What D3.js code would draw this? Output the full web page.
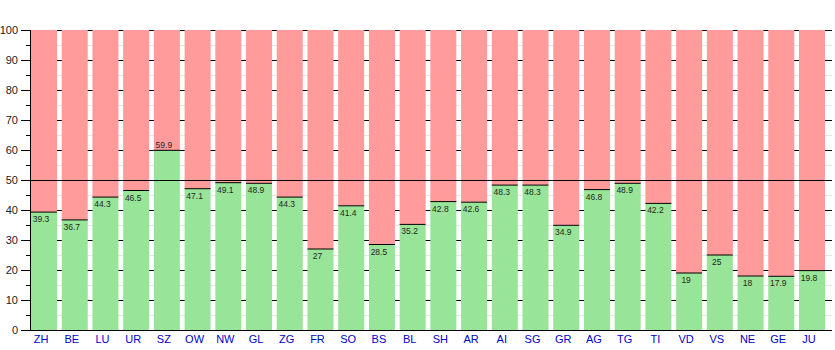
<!DOCTYPE html>
<html><head><meta charset="utf-8">
<script src="https://cdn.jsdelivr.net/npm/d3@7"></script>
<style>body{margin:0;background:#fff}svg{display:block}</style>
</head><body><svg id="c" width="835" height="350"></svg>
<script>
const cantons = ["ZH","BE","LU","UR","SZ","OW","NW","GL","ZG","FR","SO","BS","BL","SH","AR","AI","SG","GR","AG","TG","TI","VD","VS","NE","GE","JU"];
const yesShare = [39.3,36.7,44.3,46.5,59.9,47.1,49.1,48.9,44.3,27,41.4,28.5,35.2,42.8,42.6,48.3,48.3,34.9,46.8,48.9,42.2,19,25,18,17.9,19.8];
const yMajorTicks = [0,10,20,30,40,50,60,70,80,90,100];
const yMinorTicks = [5,15,25,35,45,55,65,75,85,95];
const threshold = 50;

(function () {
const svg = d3.select("#c");
const mLeft = 30, mRight = 832, mTop = 30, mBottom = 330;
const x = d3.scaleBand().domain(cantons).range([31, 825]).paddingInner(0.1536).paddingOuter(0);
const y = d3.scaleLinear().domain([0, 100]).range([mBottom, mTop]);
const font = "'Liberation Sans', Arial, sans-serif";

// minor gridlines
svg.append("g").selectAll("line").data(yMinorTicks).join("line")
  .attr("x1", mLeft).attr("x2", mRight)
  .attr("y1", d => Math.round(y(d)) + 0.5).attr("y2", d => Math.round(y(d)) + 0.5)
  .attr("stroke", "#e6e6e6").attr("stroke-width", 1);
// major gridlines
svg.append("g").selectAll("line").data(yMajorTicks).join("line")
  .attr("x1", mLeft).attr("x2", mRight)
  .attr("y1", d => Math.round(y(d)) + 0.5).attr("y2", d => Math.round(y(d)) + 0.5)
  .attr("stroke", "#000").attr("stroke-width", 1);

const bars = svg.append("g").selectAll("g").data(cantons.map((c, i) => ({c, v: yesShare[i]}))).join("g");
bars.append("rect")
  .attr("x", d => x(d.c)).attr("width", x.bandwidth())
  .attr("y", y(100)).attr("height", d => y(d.v) - y(100))
  .attr("fill", "#ff9b9b");
bars.append("rect")
  .attr("x", d => x(d.c)).attr("width", x.bandwidth())
  .attr("y", d => y(d.v)).attr("height", d => y(0) - y(d.v))
  .attr("fill", "#98e498");
bars.append("line")
  .attr("x1", d => x(d.c)).attr("x2", d => x(d.c) + x.bandwidth())
  .attr("y1", d => y(d.v)).attr("y2", d => y(d.v))
  .attr("stroke", "#000").attr("stroke-width", 1);
bars.append("text")
  .attr("x", d => x(d.c) + x.bandwidth() / 2 - 3)
  .attr("y", d => d.v > threshold ? y(d.v) - 2.5 : y(d.v) + 10)
  .attr("text-anchor", "middle")
  .attr("font-family", font).attr("font-size", 8.5).attr("fill", "#1f2a1f")
  .text(d => d.v);

// threshold line on top
svg.append("line")
  .attr("x1", mLeft).attr("x2", mRight)
  .attr("y1", Math.round(y(threshold)) + 0.5).attr("y2", Math.round(y(threshold)) + 0.5)
  .attr("stroke", "#000").attr("stroke-width", 1);

// y axis
const ya = svg.append("g").attr("transform", `translate(${mLeft},0)`)
  .call(d3.axisLeft(y).tickValues(yMajorTicks).tickSize(9).tickPadding(3).tickSizeOuter(0));
ya.select(".domain").attr("stroke", "#000");
ya.selectAll("text").attr("font-family", font).attr("font-size", 11).attr("fill", "#222");
svg.append("g").attr("transform", `translate(${mLeft},0)`)
  .call(d3.axisLeft(y).tickValues(yMinorTicks).tickSize(4).tickFormat(""))
  .call(g => g.select(".domain").remove());

// x axis
svg.append("line").attr("x1", mLeft - 4).attr("x2", mRight).attr("y1", mBottom + 0.5).attr("y2", mBottom + 0.5).attr("stroke", "#000");
svg.append("g").selectAll("text").data(cantons).join("text")
  .attr("x", d => x(d) + x.bandwidth() / 2 - 3)
  .attr("y", 343)
  .attr("text-anchor", "middle")
  .attr("font-family", font).attr("font-size", 11).attr("fill", "#0000cc")
  .text(d => d);
})();
</script></body></html>
